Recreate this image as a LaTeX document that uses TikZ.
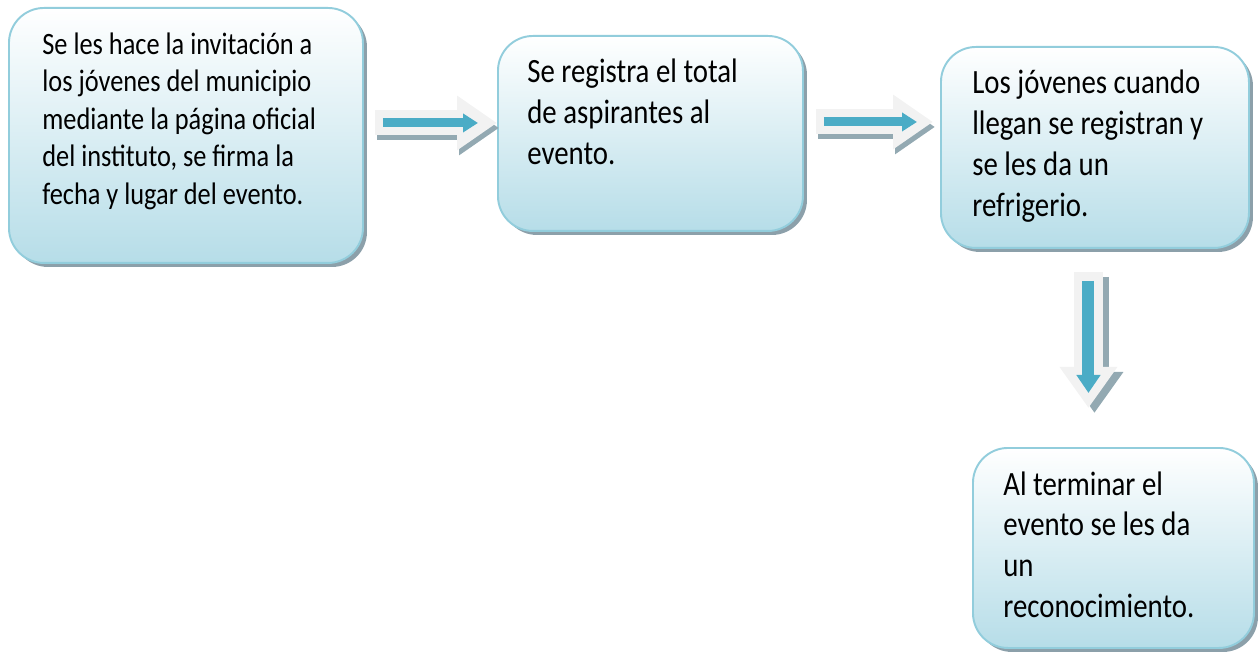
\documentclass[tikz,border=0pt]{standalone}
\usepackage{fontspec}
\setmainfont{Carlito}
\usepackage{xcolor}
\usetikzlibrary{arrows.meta, calc, shadows}
\definecolor{boxline}{RGB}{146,205,220}
\definecolor{boxfill}{RGB}{182,221,232}
\definecolor{boxshade}{RGB}{140,160,170}
\definecolor{arrowbody}{RGB}{242,242,242}
\definecolor{arrowblue}{RGB}{75,172,198}
\definecolor{arrowshade}{RGB}{147,169,178}
\tikzstyle{stepbox} = [rectangle, rounded corners=0.7cm, draw=boxline, line width=1.1pt, top color=white, bottom color=boxfill, anchor=north west, drop shadow={shadow xshift=0.08cm, shadow yshift=-0.08cm, fill=boxshade, opacity=1}]
\tikzstyle{steptext} = [inner sep=0pt, anchor=base west, yscale=1.18, transform shape, font=\fontsize{16.4}{19.75}\selectfont]
\tikzstyle{smalltext} = [steptext, font=\fontsize{15}{18.05}\selectfont]
\tikzstyle{arrowout} = [arrowbody, line width=0.5cm, -{Triangle[length=0.8cm,width=1.04cm]}]
\tikzstyle{arrowsh} = [arrowshade, line width=0.5cm, -{Triangle[length=0.8cm,width=1.04cm]}]
\tikzstyle{arrowin} = [arrowblue, line width=0.18cm, -{Triangle[length=0.3cm,width=0.36cm]}]
\tikzstyle{downout} = [arrowbody, line width=0.58cm, -{Triangle[length=0.82cm,width=1.1cm]}]
\tikzstyle{downsh} = [arrowshade, line width=0.58cm, -{Triangle[length=0.82cm,width=1.1cm]}]
\tikzstyle{downin} = [arrowblue, line width=0.24cm, -{Triangle[length=0.36cm,width=0.46cm]}]
\begin{document}
\begin{tikzpicture}
    \useasboundingbox (0,0) rectangle (25.16,-13.08);
    \node (b1) [stepbox, minimum width=7.08cm, minimum height=5.1cm] at (0.16,-0.14) {};
    \node (b2) [stepbox, minimum width=6.1cm, minimum height=3.9cm] at (9.94,-0.7) {};
    \node (b3) [stepbox, minimum width=6.16cm, minimum height=4.02cm] at (18.8,-0.92) {};
    \node (b4) [stepbox, minimum width=5.62cm, minimum height=4.0cm] at (19.44,-8.94) {};

    \node (t1) [smalltext] at ($(b1.north west)+(0.68,-0.95)$) {\parbox[t]{6.3cm}{Se les hace la invitación a\\los jóvenes del municipio\\mediante la página oficial\\del instituto, se firma la\\fecha y lugar del evento.}};
    \node (t2) [steptext] at ($(b2.north west)+(0.6,-0.96)$) {\parbox[t]{5.4cm}{Se registra el total\\de aspirantes al\\evento.}};
    \node (t3) [steptext] at ($(b3.north west)+(0.64,-0.96)$) {\parbox[t]{5.4cm}{Los jóvenes cuando\\llegan se registran y\\se les da un\\refrigerio.}};
    \node (t4) [steptext] at ($(b4.north west)+(0.62,-0.96)$) {\parbox[t]{4.9cm}{Al terminar el\\evento se les da\\un\\reconocimiento.}};

    \draw [arrowsh] ($(b1.east)+(0.26,0.15)$) -- ($(b2.west |- b1.east)+(0.04,0.15)$);
    \draw [arrowout] ($(b1.east)+(0.22,0.25)$) -- ($(b2.west |- b1.east)+(0,0.25)$);
    \draw [arrowin] ($(b1.east)+(0.38,0.25)$) -- ($(b2.west |- b1.east)+(-0.38,0.25)$);

    \draw [arrowsh] ($(b2.east)+(0.28,0.13)$) -- ($(b3.west |- b2.east)+(-0.1,0.13)$);
    \draw [arrowout] ($(b2.east)+(0.24,0.23)$) -- ($(b3.west |- b2.east)+(-0.14,0.23)$);
    \draw [arrowin] ($(b2.east)+(0.4,0.23)$) -- ($(b3.west |- b2.east)+(-0.46,0.23)$);

    \draw [downsh] ($(b3.south)+(-0.01,-0.56)$) -- ($(b3.south |- b4.north)+(-0.01,0.68)$);
    \draw [downout] ($(b3.south)+(-0.13,-0.46)$) -- ($(b3.south |- b4.north)+(-0.13,0.78)$);
    \draw [downin] ($(b3.south)+(-0.13,-0.64)$) -- ($(b3.south |- b4.north)+(-0.13,1.08)$);
\end{tikzpicture}
\end{document}
